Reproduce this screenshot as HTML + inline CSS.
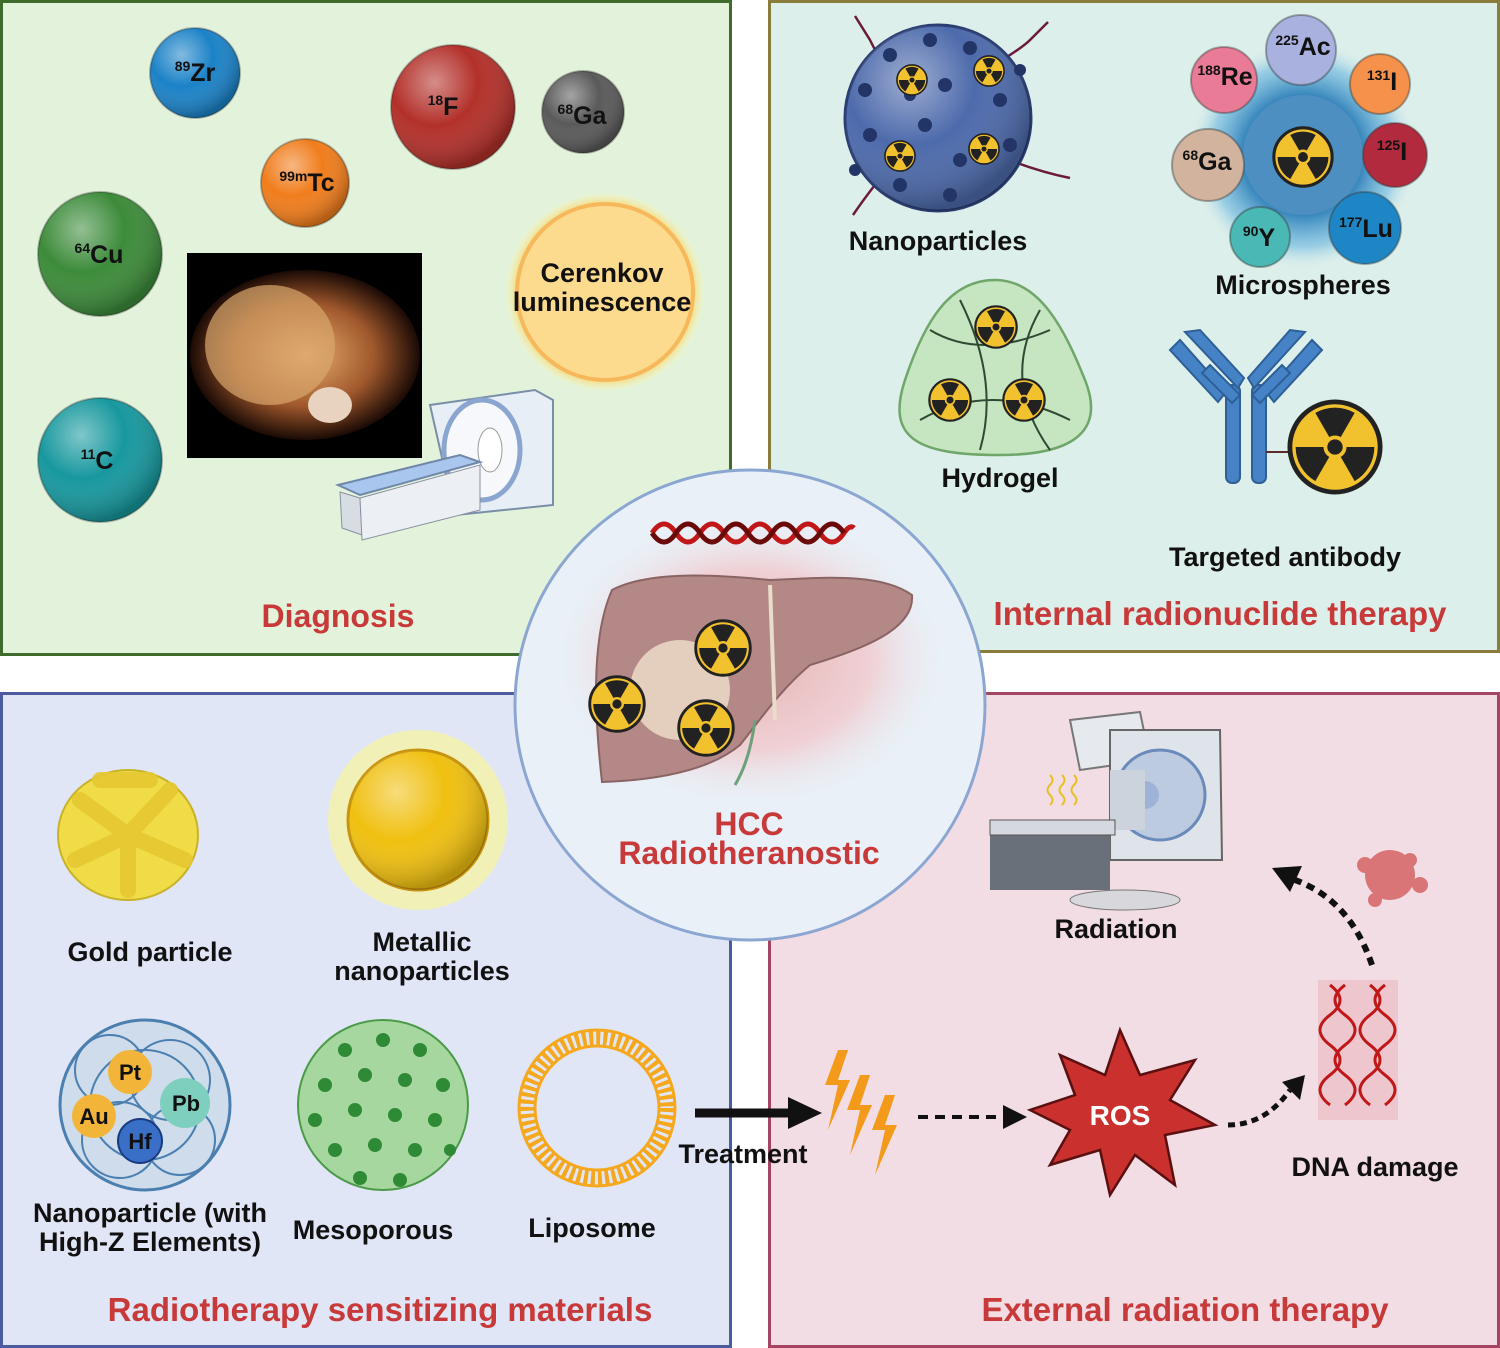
<!DOCTYPE html>
<html><head><meta charset="utf-8"><style>
html,body{margin:0;padding:0;background:#fff}
svg{display:block}
text{font-family:"Liberation Sans",sans-serif;font-weight:bold}
</style></head><body>
<svg width="1500" height="1348" viewBox="0 0 1500 1348" xmlns="http://www.w3.org/2000/svg">
<defs>
<symbol id="rad" viewBox="-50 -50 100 100">
<circle r="47" fill="#f2c12e" stroke="#222" stroke-width="5"/>
<path d="M0 0 L-20.5 -35.5 A41 41 0 0 1 20.5 -35.5 Z" fill="#222"/>
<path d="M0 0 L41 0 A41 41 0 0 1 20.5 35.5 Z" fill="#222"/>
<path d="M0 0 L-20.5 35.5 A41 41 0 0 1 -41 0 Z" fill="#222"/>
<circle r="12" fill="#f2c12e"/><circle r="8" fill="#222"/>
</symbol>
<radialGradient id="sph" cx="35%" cy="30%" r="70%"><stop offset="0" stop-color="#fff" stop-opacity=".45"/><stop offset=".5" stop-color="#fff" stop-opacity="0"/><stop offset="1" stop-color="#000" stop-opacity=".25"/></radialGradient>
<radialGradient id="glowY"><stop offset=".7" stop-color="#fde28f"/><stop offset=".85" stop-color="#f9c95a"/><stop offset="1" stop-color="#fff5a0" stop-opacity="0"/></radialGradient>
<radialGradient id="pinkGlow"><stop offset="0" stop-color="#e7b6b6"/><stop offset=".6" stop-color="#efd0d4"/><stop offset="1" stop-color="#e9f0f6" stop-opacity="0"/></radialGradient>
<radialGradient id="blueGlow"><stop offset=".5" stop-color="#2e7fb8"/><stop offset=".8" stop-color="#6bb7e0" stop-opacity=".6"/><stop offset="1" stop-color="#dcefec" stop-opacity="0"/></radialGradient>
<radialGradient id="ct"><stop offset="0" stop-color="#e9b070"/><stop offset=".6" stop-color="#a0582c"/><stop offset="1" stop-color="#1a0a05"/></radialGradient>
</defs>

<rect x="1.5" y="1.5" width="729" height="653" fill="#e3f3db" stroke="#3f6c2c" stroke-width="3"/>
<rect x="769.5" y="1.5" width="729" height="650" fill="#dcefea" stroke="#8b7c3c" stroke-width="3"/>
<rect x="1.5" y="693.5" width="729" height="653" fill="#e1e6f6" stroke="#4a5c9d" stroke-width="3"/>
<rect x="769.5" y="693.5" width="729" height="653" fill="#f2dde5" stroke="#a34563" stroke-width="3"/>

<g stroke="#1a1a1a" stroke-opacity=".3" stroke-width="2">
<circle cx="195" cy="73" r="45" fill="#1b82c7"/>
<circle cx="453" cy="107" r="62" fill="#b3302a"/>
<circle cx="583" cy="112" r="41" fill="#5a5a5a"/>
<circle cx="305" cy="183" r="44" fill="#f07d1c"/>
<circle cx="100" cy="254" r="62" fill="#3c8b3a"/>
<circle cx="100" cy="460" r="62" fill="#17989e"/>
</g>
<g fill="url(#sph)"><circle cx="195" cy="73" r="45"/><circle cx="453" cy="107" r="62"/><circle cx="583" cy="112" r="41"/><circle cx="305" cy="183" r="44"/><circle cx="100" cy="254" r="62"/><circle cx="100" cy="460" r="62"/></g>
<g font-size="25" fill="#111" text-anchor="middle">
<text x="195" y="81"><tspan font-size="14" dy="-10">89</tspan><tspan dy="10">Zr</tspan></text>
<text x="443" y="115"><tspan font-size="14" dy="-10">18</tspan><tspan dy="10">F</tspan></text>
<text x="582" y="124"><tspan font-size="14" dy="-10">68</tspan><tspan dy="10">Ga</tspan></text>
<text x="307" y="191"><tspan font-size="14" dy="-10">99m</tspan><tspan dy="10">Tc</tspan></text>
<text x="99" y="263"><tspan font-size="14" dy="-10">64</tspan><tspan dy="10">Cu</tspan></text>
<text x="97" y="469"><tspan font-size="14" dy="-10">11</tspan><tspan dy="10">C</tspan></text>
</g>
<circle cx="605" cy="292" r="100" fill="url(#glowY)"/>
<circle cx="605" cy="292" r="88" fill="#fddb8e" stroke="#f6b85a" stroke-width="4"/>
<text x="602" y="282" font-size="27" text-anchor="middle" fill="#111">Cerenkov</text>
<text x="602" y="311" font-size="27" text-anchor="middle" fill="#111">luminescence</text>
<rect x="187" y="253" width="235" height="205" fill="#000"/>
<ellipse cx="305" cy="355" rx="115" ry="85" fill="url(#ct)"/>
<ellipse cx="270" cy="345" rx="65" ry="60" fill="#d9a66c" opacity=".7"/>
<ellipse cx="330" cy="405" rx="22" ry="18" fill="#e8d3c0"/>
<path d="M430 405 L535 390 L553 400 L553 505 L455 515 Z" fill="#e8eef5" stroke="#7a8ea8" stroke-width="2"/>
<ellipse cx="482" cy="450" rx="38" ry="50" fill="#f6f8fb" stroke="#8aa6d0" stroke-width="5"/>
<ellipse cx="490" cy="450" rx="12" ry="22" fill="#fff" stroke="#999"/>
<path d="M338 485 L460 455 L480 462 L360 495 Z" fill="#a9c7ee" stroke="#6f87a8" stroke-width="2"/>
<path d="M340 492 L360 498 L362 535 L342 528 Z" fill="#d8dde4" stroke="#8890a0"/>
<path d="M360 498 L480 465 L480 510 L362 540 Z" fill="#eceff3" stroke="#8890a0"/>
<text x="338" y="627" font-size="32" fill="#c8393a" text-anchor="middle">Diagnosis</text>

<g stroke="#6b1a3a" stroke-width="2.5" fill="none">
<path d="M900 95 Q880 60 870 40 L855 16"/><path d="M985 70 Q1020 50 1030 40 L1048 22"/>
<path d="M985 150 Q1030 170 1070 178"/><path d="M895 160 Q870 190 853 215"/>
</g>
<circle cx="938" cy="118" r="93" fill="#4d6aab" stroke="#2a3d72" stroke-width="3"/>
<circle cx="938" cy="118" r="93" fill="url(#sph)"/>
<g fill="#233566">
<circle cx="890" cy="55" r="7"/><circle cx="930" cy="40" r="7"/><circle cx="970" cy="48" r="7"/><circle cx="865" cy="90" r="7"/><circle cx="945" cy="85" r="7"/><circle cx="1000" cy="100" r="7"/><circle cx="870" cy="135" r="7"/><circle cx="925" cy="125" r="7"/><circle cx="960" cy="160" r="7"/><circle cx="900" cy="185" r="7"/><circle cx="950" cy="195" r="7"/><circle cx="1010" cy="145" r="7"/><circle cx="855" cy="170" r="6"/><circle cx="1020" cy="70" r="6"/><circle cx="910" cy="95" r="6"/></g>
<use href="#rad" x="896" y="64" width="32" height="32"/><use href="#rad" x="973" y="55" width="32" height="32"/>
<use href="#rad" x="884" y="140" width="32" height="32"/><use href="#rad" x="968" y="133" width="32" height="32"/>
<text x="938" y="250" font-size="27" text-anchor="middle" fill="#111">Nanoparticles</text>
<circle cx="1303" cy="155" r="115" fill="url(#blueGlow)"/>
<circle cx="1303" cy="155" r="60" fill="#4d8fc0"/>
<use href="#rad" x="1272" y="126" width="62" height="62"/>
<g stroke="#333" stroke-opacity=".4" stroke-width="2">
<circle cx="1301" cy="50" r="35" fill="#a9b1df"/><circle cx="1224" cy="80" r="33" fill="#ea7b97"/>
<circle cx="1380" cy="84" r="30" fill="#f5914a"/><circle cx="1395" cy="155" r="32" fill="#b22a3e"/>
<circle cx="1208" cy="165" r="36" fill="#d2b39e"/><circle cx="1260" cy="237" r="30" fill="#4ab8b4"/>
<circle cx="1365" cy="228" r="36" fill="#1f86c6"/></g>
<g font-size="25" fill="#111" text-anchor="middle">
<text x="1303" y="55"><tspan font-size="14" dy="-10">225</tspan><tspan dy="10">Ac</tspan></text>
<text x="1225" y="85"><tspan font-size="14" dy="-10">188</tspan><tspan dy="10">Re</tspan></text>
<text x="1382" y="90"><tspan font-size="14" dy="-10">131</tspan><tspan dy="10">I</tspan></text>
<text x="1392" y="160"><tspan font-size="14" dy="-10">125</tspan><tspan dy="10">I</tspan></text>
<text x="1207" y="170"><tspan font-size="14" dy="-10">68</tspan><tspan dy="10">Ga</tspan></text>
<text x="1259" y="246"><tspan font-size="14" dy="-10">90</tspan><tspan dy="10">Y</tspan></text>
<text x="1366" y="237"><tspan font-size="14" dy="-10">177</tspan><tspan dy="10">Lu</tspan></text>
</g>
<text x="1303" y="294" font-size="27" text-anchor="middle" fill="#111">Microspheres</text>
<path d="M995 280 C1040 280 1065 330 1085 380 C1105 430 1075 455 1000 455 C920 455 885 440 905 380 C925 320 950 280 995 280 Z" fill="#c5e6c0" stroke="#6fa66a" stroke-width="2.5"/>
<g stroke="#2f4a32" stroke-width="2" fill="none"><path d="M930 330 Q980 360 1050 330"/><path d="M920 420 Q990 380 1070 420"/><path d="M960 300 Q1000 380 980 450"/><path d="M1040 310 Q1000 380 1050 450"/></g>
<use href="#rad" x="974" y="305" width="44" height="44"/><use href="#rad" x="928" y="378" width="44" height="44"/><use href="#rad" x="1002" y="378" width="44" height="44"/>
<text x="1000" y="487" font-size="27" text-anchor="middle" fill="#111">Hydrogel</text>
<g stroke="#2e5f96" stroke-width="2" fill="#4583c6">
<rect x="1226" y="385" width="14" height="98" rx="6"/><rect x="1252" y="385" width="14" height="98" rx="6"/>
<path d="M1226 392 L1180 340 L1170 350 L1218 402 Z"/><path d="M1210 365 L1240 395 L1232 403 L1202 373 Z"/>
<path d="M1266 392 L1312 340 L1322 350 L1274 402 Z"/><path d="M1282 365 L1252 395 L1260 403 L1290 373 Z"/>
<path d="M1238 388 L1185 332 L1200 330 L1244 378 Z"/><path d="M1254 388 L1305 332 L1290 330 L1248 378 Z"/>
</g>
<line x1="1266" y1="452" x2="1292" y2="452" stroke="#5a2a2a" stroke-width="2"/>
<use href="#rad" x="1287" y="399" width="96" height="96"/>
<text x="1285" y="566" font-size="27" text-anchor="middle" fill="#111">Targeted antibody</text>
<text x="1220" y="625" font-size="33" fill="#c8393a" text-anchor="middle">Internal radionuclide therapy</text>

<g fill="#f0dc46" stroke="#c8b22a" stroke-width="2">
<ellipse cx="128" cy="835" rx="70" ry="65"/></g>
<g stroke="#e6c832" stroke-width="16" stroke-linecap="round" fill="none" opacity=".9">
<path d="M80 800 L128 835 L170 790"/><path d="M128 835 L128 890"/><path d="M75 860 L128 835 L185 860"/><path d="M100 780 L150 780"/></g>
<text x="150" y="961" font-size="27" text-anchor="middle" fill="#111">Gold particle</text>
<circle cx="418" cy="820" r="90" fill="#f5f2a8" opacity=".8"/>
<circle cx="418" cy="820" r="70" fill="#f0c010" stroke="#c7930a" stroke-width="3"/>
<circle cx="418" cy="820" r="70" fill="url(#sph)"/>
<text x="422" y="951" font-size="27" text-anchor="middle" fill="#111">Metallic</text>
<text x="422" y="980" font-size="27" text-anchor="middle" fill="#111">nanoparticles</text>
<circle cx="145" cy="1105" r="85" fill="#cfdcec" stroke="#4a7fb0" stroke-width="3"/>
<g stroke="#4a7fb0" stroke-width="2" fill="none"><circle cx="110" cy="1070" r="35"/><circle cx="170" cy="1080" r="40"/><circle cx="120" cy="1140" r="38"/><circle cx="180" cy="1140" r="35"/><circle cx="145" cy="1105" r="55"/></g>
<circle cx="130" cy="1072" r="22" fill="#f2b53a"/><circle cx="185" cy="1103" r="25" fill="#7ecfbe"/>
<circle cx="94" cy="1116" r="22" fill="#f2b53a"/><circle cx="140" cy="1141" r="22" fill="#3a6fc8" stroke="#1a3a80" stroke-width="2"/>
<g font-size="22" text-anchor="middle" fill="#111"><text x="130" y="1080">Pt</text><text x="186" y="1111">Pb</text><text x="94" y="1124">Au</text><text x="140" y="1149">Hf</text></g>
<text x="150" y="1222" font-size="27" text-anchor="middle" fill="#111">Nanoparticle (with</text>
<text x="150" y="1251" font-size="27" text-anchor="middle" fill="#111">High-Z Elements)</text>
<circle cx="383" cy="1105" r="85" fill="#a5d79e" stroke="#4a9a48" stroke-width="2"/>
<g fill="#2f8a36">
<circle cx="345" cy="1050" r="7"/><circle cx="383" cy="1040" r="7"/><circle cx="420" cy="1050" r="7"/><circle cx="325" cy="1085" r="7"/><circle cx="365" cy="1075" r="7"/><circle cx="405" cy="1080" r="7"/><circle cx="443" cy="1085" r="7"/><circle cx="315" cy="1120" r="7"/><circle cx="355" cy="1110" r="7"/><circle cx="395" cy="1115" r="7"/><circle cx="435" cy="1120" r="7"/><circle cx="335" cy="1150" r="7"/><circle cx="375" cy="1145" r="7"/><circle cx="415" cy="1150" r="7"/><circle cx="450" cy="1150" r="6"/><circle cx="360" cy="1178" r="7"/><circle cx="400" cy="1180" r="7"/></g>
<circle cx="597" cy="1108" r="70" fill="none" stroke="#f5a81e" stroke-width="14" stroke-dasharray="4 3"/>
<circle cx="597" cy="1108" r="78" fill="none" stroke="#f5a81e" stroke-width="3"/>
<circle cx="597" cy="1108" r="62" fill="none" stroke="#f5a81e" stroke-width="3"/>
<text x="373" y="1239" font-size="27" text-anchor="middle" fill="#111">Mesoporous</text>
<text x="592" y="1237" font-size="27" text-anchor="middle" fill="#111">Liposome</text>
<text x="380" y="1321" font-size="33" fill="#c8393a" text-anchor="middle">Radiotherapy sensitizing materials</text>

<path d="M1070 720 L1140 712 L1150 760 L1080 770 Z" fill="#e6eaef" stroke="#777" stroke-width="2"/>
<path d="M1110 730 L1220 730 L1222 860 L1110 860 Z" fill="#dfe4ea" stroke="#666" stroke-width="2"/>
<circle cx="1160" cy="795" r="45" fill="#bccbe0" stroke="#6a8abc" stroke-width="3"/>
<circle cx="1145" cy="795" r="14" fill="#9fb3d6"/>
<rect x="1110" y="770" width="35" height="60" fill="#ccd3dc"/>
<rect x="990" y="830" width="120" height="60" fill="#6a707a"/>
<rect x="990" y="820" width="125" height="15" fill="#d5d9df" stroke="#555"/>
<ellipse cx="1125" cy="900" rx="55" ry="10" fill="#d8d8dc" stroke="#777"/>
<g stroke="#e8c020" stroke-width="2" fill="none"><path d="M1050 775 q5 5 0 10 q-5 5 0 10 q5 5 0 10"/><path d="M1062 775 q5 5 0 10 q-5 5 0 10 q5 5 0 10"/><path d="M1074 775 q5 5 0 10 q-5 5 0 10 q5 5 0 10"/></g>
<text x="1116" y="938" font-size="27" text-anchor="middle" fill="#111">Radiation</text>
<g fill="#d45c5c" opacity=".8"><circle cx="1390" cy="875" r="25"/><circle cx="1365" cy="865" r="8"/><circle cx="1420" cy="885" r="8"/><circle cx="1375" cy="900" r="7"/><circle cx="1410" cy="860" r="7"/></g>
<path d="M1372 965 Q1350 900 1295 880" fill="none" stroke="#111" stroke-width="6" stroke-dasharray="8 6"/>
<path d="M1272 868 L1302 866 L1290 892 Z" fill="#111"/>
<rect x="1318" y="980" width="80" height="140" fill="#e9b0b8" opacity=".5"/>
<g stroke="#c01818" stroke-width="3" fill="none">
<path d="M1330 985 q20 15 0 30 q-20 15 0 30 q20 15 0 30 q-20 15 0 30"/><path d="M1345 985 q-20 15 0 30 q20 15 0 30 q-20 15 0 30 q20 15 0 30"/>
<path d="M1370 985 q20 15 0 30 q-20 15 0 30 q20 15 0 30 q-20 15 0 30"/><path d="M1385 985 q-20 15 0 30 q20 15 0 30 q-20 15 0 30 q20 15 0 30"/></g>
<text x="1375" y="1176" font-size="27" text-anchor="middle" fill="#111">DNA damage</text>
<path d="M1120 1030 L1140 1075 L1195 1060 L1170 1100 L1215 1125 L1165 1135 L1175 1185 L1135 1155 L1110 1195 L1100 1150 L1050 1165 L1070 1130 L1030 1110 L1075 1095 L1060 1055 L1105 1075 Z" fill="#c9302e" stroke="#5a1010" stroke-width="2.5"/>
<text x="1120" y="1125" font-size="28" fill="#fff" text-anchor="middle">ROS</text>
<path d="M918 1117 L1005 1117" stroke="#111" stroke-width="4" stroke-dasharray="10 7"/>
<path d="M1003 1105 L1027 1117 L1003 1129 Z" fill="#111"/>
<path d="M1228 1125 Q1265 1125 1290 1090" fill="none" stroke="#111" stroke-width="5" stroke-dasharray="7 5"/>
<path d="M1282 1082 L1305 1075 L1300 1100 Z" fill="#111"/>
<g fill="#f39a1a"><path d="M838 1050 L825 1085 L838 1085 L828 1130 L850 1080 L838 1080 L848 1050 Z"/>
<path d="M860 1075 L847 1110 L860 1110 L850 1155 L872 1105 L860 1105 L870 1075 Z"/>
<path d="M885 1095 L872 1130 L885 1130 L875 1175 L897 1125 L885 1125 L895 1095 Z"/></g>
<text x="1185" y="1321" font-size="33" fill="#c8393a" text-anchor="middle">External radiation therapy</text>
<path d="M695 1113 L790 1113" stroke="#111" stroke-width="9"/>
<path d="M788 1097 L822 1113 L788 1129 Z" fill="#111"/>

<circle cx="750" cy="705" r="235" fill="#e9f0f7" stroke="#8ca6d2" stroke-width="3"/>
<ellipse cx="750" cy="660" rx="200" ry="150" fill="url(#pinkGlow)"/>
<path d="M612 590 C650 570 720 575 770 580 C820 578 880 572 912 595 C915 630 860 650 810 665 C780 690 760 720 740 745 C710 770 660 780 602 782 C595 720 590 640 612 590 Z" fill="#b48886" stroke="#8a6464" stroke-width="2"/>
<path d="M770 585 L775 720" stroke="#e8dccc" stroke-width="4" fill="none"/>
<path d="M755 720 Q750 760 735 785" stroke="#6aa07a" stroke-width="3" fill="none"/>
<ellipse cx="680" cy="690" rx="50" ry="50" fill="#ecdcc8" opacity=".85"/>
<use href="#rad" x="694" y="619" width="58" height="58"/>
<use href="#rad" x="588" y="675" width="58" height="58"/>
<use href="#rad" x="677" y="699" width="58" height="58"/>
<g stroke-width="5" fill="none"><path d="M652 533 q12 -18 24 0 q12 18 24 0 q12 -18 24 0 q12 18 24 0 q12 -18 24 0 q12 18 24 0 q12 -18 24 0 q12 18 24 0 q6 -9 10 -5" stroke="#c01818"/>
<path d="M652 533 q12 18 24 0 q12 -18 24 0 q12 18 24 0 q12 -18 24 0 q12 18 24 0 q12 -18 24 0 q12 18 24 0 q12 -18 24 0" stroke="#6a0a0a"/></g>
<text x="749" y="835" font-size="32" fill="#c8393a" text-anchor="middle">HCC</text>
<text x="749" y="864" font-size="32" fill="#c8393a" text-anchor="middle">Radiotheranostic</text>
<text x="743" y="1163" font-size="27" text-anchor="middle" fill="#111">Treatment</text>
</svg>
</body></html>
